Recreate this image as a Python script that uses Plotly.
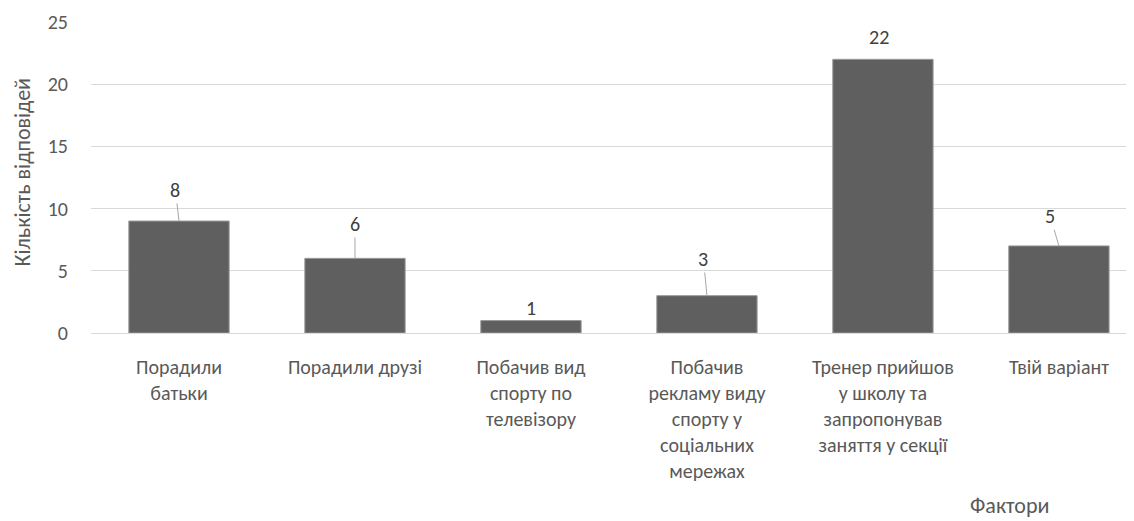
import plotly.graph_objects as go

categories = [
    "Порадили<br>батьки",
    "Порадили друзі",
    "Побачив вид<br>спорту по<br>телевізору",
    "Побачив<br>рекламу виду<br>спорту у<br>соціальних<br>мережах",
    "Тренер прийшов<br>у школу та<br>запропонував<br>заняття у секції",
    "Твій варіант",
]
values = [9, 6, 1, 3, 22, 7]
label_texts = ["8", "6", "1", "3", "22", "5"]

y_title = "Кількість відповідей"
x_title = "Фактори"
y_ticks = [0, 5, 10, 15, 20, 25]

FONT = "Carlito, Calibri, Lato, 'Noto Sans', sans-serif"
TXT = "#595959"

# label placement (layout): (dx offset in category units, text y in axis units, has leader line)
label_layout = [(-0.02, 11.5, True), (0.0, 8.76, True), (0.0, 2.0, False),
                (-0.02, 5.95, True), (-0.02, 23.8, False), (-0.05, 9.4, True)]

fig = go.Figure()
fig.add_trace(go.Bar(
    x=list(range(len(categories))),
    y=values,
    width=0.57,
    marker=dict(color="#5f5f5f", line=dict(color="#9a9a9a", width=1)),
    hoverinfo="skip",
))

annotations = []
for i, (txt, (dx, ty, leader)) in enumerate(zip(label_texts, label_layout)):
    if leader:
        annotations.append(dict(
            x=i, y=values[i], xref="x", yref="y",
            ax=i + dx, ay=ty, axref="x", ayref="y",
            text=txt, showarrow=True, arrowhead=0, arrowwidth=1,
            arrowcolor="#a6a6a6", standoff=0, startstandoff=0,
            font=dict(family=FONT, size=20, color="#404040"),
        ))
    else:
        annotations.append(dict(
            x=i + dx, y=ty, xref="x", yref="y", text=txt, showarrow=False,
            yanchor="middle", xanchor="center",
            font=dict(family=FONT, size=20, color="#404040"),
        ))

annotations.append(dict(
    x=-0.0652, y=0.518, xref="paper", yref="paper", text=y_title, textangle=-90,
    showarrow=False, xanchor="center", yanchor="middle",
    font=dict(family=FONT, size=22, color=TXT),
))
annotations.append(dict(
    x=0.874, y=-0.556, xref="paper", yref="paper", text=x_title,
    showarrow=False, xanchor="center", yanchor="middle",
    font=dict(family=FONT, size=22, color=TXT),
))

fig.update_layout(
    width=1134, height=521,
    margin=dict(l=83, r=0, t=14, b=196),
    paper_bgcolor="white", plot_bgcolor="white",
    showlegend=False,
    annotations=annotations,
    xaxis=dict(
        range=[-0.5, 5.472],
        tickmode="array", tickvals=list(range(len(categories))), ticktext=categories,
        tickfont=dict(family=FONT, size=20, color=TXT),
        showgrid=False, zeroline=False, showline=False, ticks="",
        ticklabelstandoff=20,
        fixedrange=True,
    ),
    yaxis=dict(
        range=[0, 25], tickvals=y_ticks,
        tickfont=dict(family=FONT, size=20, color=TXT),
        showgrid=True, gridcolor="#d9d9d9", gridwidth=1,
        zeroline=True, zerolinecolor="#d9d9d9", zerolinewidth=1,
        showline=False, ticks="", ticklabelstandoff=22,
        fixedrange=True,
    ),
)

fig.write_html("out.html", config={"displayModeBar": False})
